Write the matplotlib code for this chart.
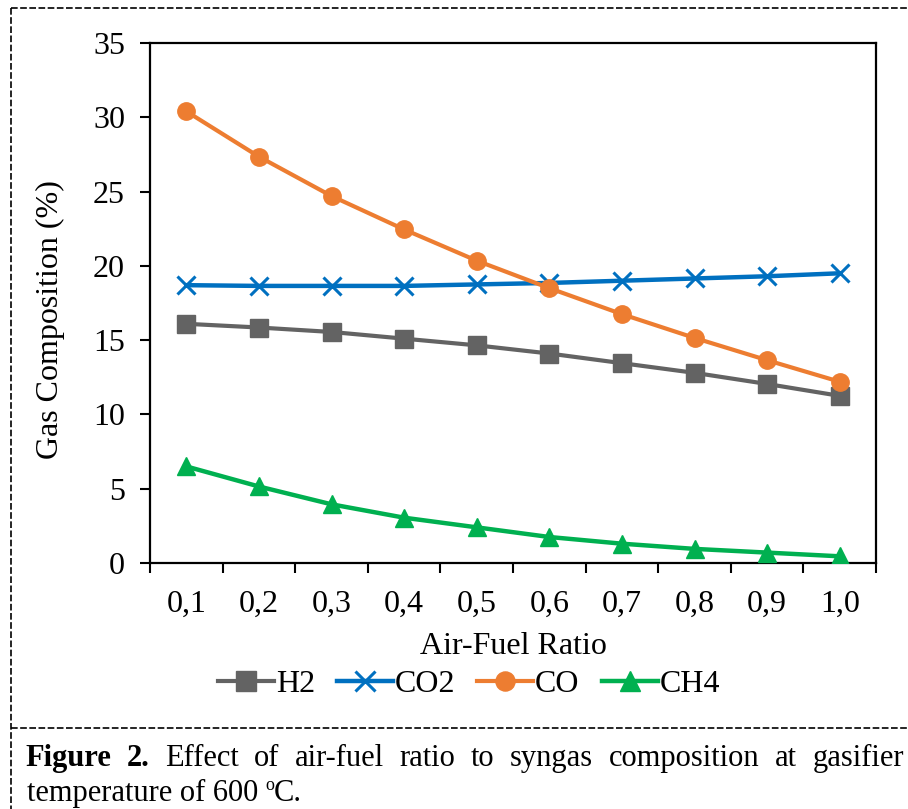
import matplotlib
matplotlib.use('Agg')
import matplotlib.pyplot as plt
from matplotlib.lines import Line2D

# data
ratios = ['0,1', '0,2', '0,3', '0,4', '0,5', '0,6', '0,7', '0,8', '0,9', '1,0']
h2 = [16.1, 15.85, 15.55, 15.1, 14.65, 14.1, 13.45, 12.8, 12.05, 11.25]
co2 = [18.7, 18.65, 18.65, 18.65, 18.75, 18.85, 19.0, 19.15, 19.3, 19.5]
co = [30.4, 27.35, 24.7, 22.45, 20.35, 18.5, 16.75, 15.15, 13.65, 12.2]
ch4 = [6.5, 5.15, 3.95, 3.05, 2.4, 1.75, 1.3, 0.95, 0.7, 0.45]

plt.rcParams['font.family'] = ['Liberation Serif', 'DejaVu Serif']

W, H = 908, 809
fig = plt.figure(figsize=(W / 100, H / 100), dpi=100)
ax = fig.add_axes([150 / W, 1 - 563 / H, (876 - 150) / W, (563 - 43) / H])

x = list(range(len(ratios)))
ax.plot(x, h2, color='#636363', lw=3, marker='s', ms=12.5, label='H2', zorder=3)
ax.plot(x, co2, color='#0070C0', lw=3.2, marker='x', ms=13, mew=2.2, label='CO2', zorder=3)
ax.plot(x, co, color='#ED7D31', lw=3, marker='o', ms=12.5, label='CO', zorder=4)
ax.plot(x, ch4, color='#00B050', lw=3.2, marker='^', ms=13.5, label='CH4', zorder=3)

ax.set_xlim(-0.5, len(ratios) - 0.5)
ax.set_ylim(0, 35)
ax.set_yticks(range(0, 36, 5))
ax.set_xticks([i - 0.5 for i in range(len(ratios) + 1)])
ax.set_xticklabels([])
ax.set_xticks(x, minor=True)
ax.set_xticklabels(ratios, minor=True)

ax.tick_params(axis='both', which='major', direction='out', length=7, width=1.5,
               labelsize=23, colors='black')
ax.tick_params(axis='y', pad=11)
ax.tick_params(axis='x', which='minor', length=0, labelsize=23, pad=19)
for s in ax.spines.values():
    s.set_linewidth(1.6)
    s.set_color('black')

fig.text(50 / W, 1 - 320 / H, 'Gas Composition (%)', rotation=90, fontsize=23,
         ha='center', va='center')
fig.text(513 / W, 1 - 647 / H, 'Air-Fuel Ratio', fontsize=23, ha='center', va='center')

fig.legend(loc='center', bbox_to_anchor=(469 / W, 1 - 684 / H), ncol=4, frameon=False,
           fontsize=23, handlelength=1.75, handletextpad=0.05, columnspacing=0.7,
           borderaxespad=0, borderpad=0, markerscale=1.1)

# dashed frame around figure
dash = dict(color='black', lw=1.2, linestyle=(0, (4, 1.5)), transform=fig.transFigure)
fig.add_artist(Line2D([11 / W, 1], [1 - 8 / H, 1 - 8 / H], **dash))
fig.add_artist(Line2D([11 / W, 11 / W], [1 - 8 / H, 0], **dash))
fig.add_artist(Line2D([11 / W, 1], [1 - 728 / H, 1 - 728 / H], **dash))

# justified caption, first line
words = ['Figure', '2.', 'Effect', 'of', 'air-fuel', 'ratio', 'to', 'syngas',
         'composition', 'at', 'gasifier']
bold = [True, True] + [False] * (len(words) - 2)
left, right, y1 = 25, 904, 1 - 766 / H
renderer = fig.canvas.get_renderer()
texts = []
for w, b in zip(words, bold):
    t = fig.text(0, y1, w, fontsize=22, fontweight='bold' if b else 'normal',
                 ha='left', va='baseline')
    texts.append(t)
widths = [t.get_window_extent(renderer).width for t in texts]
gap = (right - left - sum(widths)) / (len(words) - 1)
pos = left
for t, wd in zip(texts, widths):
    t.set_x(pos / W)
    pos += wd + gap

fig.text(27 / W, 1 - 801 / H, 'temperature of 600 ', fontsize=22, ha='left', va='baseline')
t2 = fig.texts[-1]
x2 = (27 + t2.get_window_extent(renderer).width) / W
fig.text(x2, 1 - 790 / H, 'o', fontsize=13, ha='left', va='baseline')
fig.text(x2 + 8 / W, 1 - 801 / H, 'C.', fontsize=22, ha='left', va='baseline')

fig.savefig('out.png', dpi=100)
